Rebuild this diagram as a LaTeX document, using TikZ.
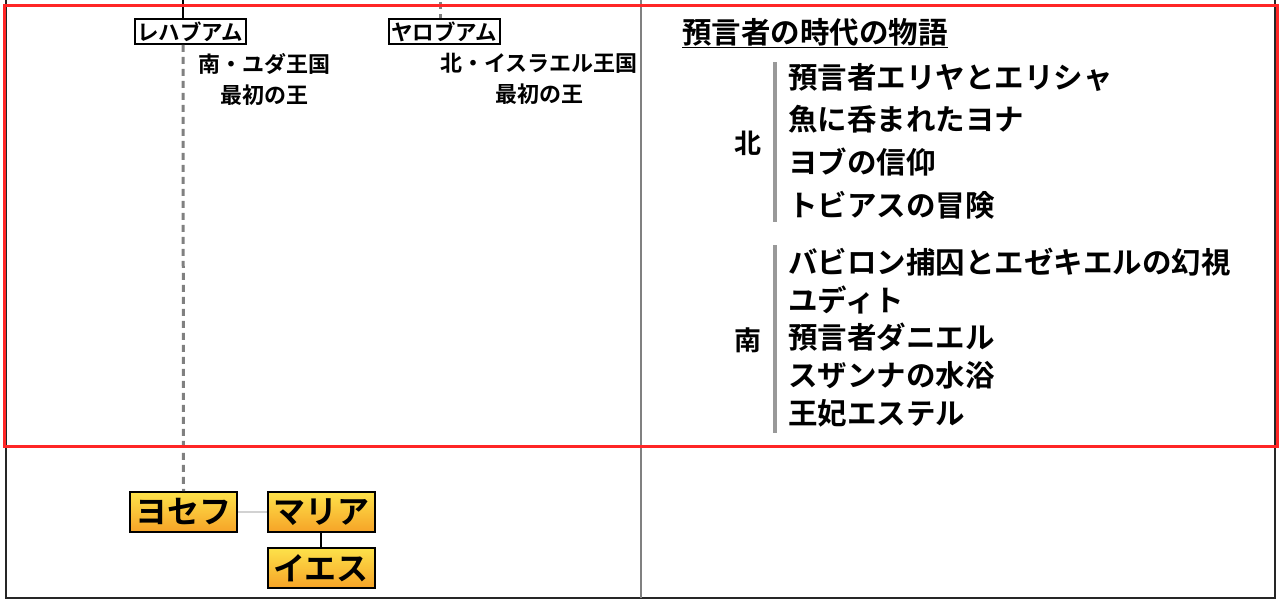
\documentclass[tikz,border=0pt]{standalone}
\usepackage{fontspec}
\setmainfont{Noto Sans CJK JP}[BoldFont={Noto Sans CJK JP Bold}]
\usepackage{tikz}
\usetikzlibrary{calc}
\definecolor{famtop}{HTML}{FDE24A}
\definecolor{fambot}{HTML}{F6A327}
\tikzstyle{king}=[draw=black,line width=2pt,fill=white,inner sep=2.5pt,font=\fontsize{21.5}{23}\selectfont\bfseries]
\tikzstyle{note}=[align=center,font=\fontsize{22}{31}\selectfont\bfseries]
\tikzstyle{story}=[anchor=west,inner sep=0pt,font=\fontsize{29.5}{32}\selectfont\bfseries]
\tikzstyle{fam}=[draw=black,line width=2pt,top color=famtop,bottom color=fambot,minimum width=107pt,minimum height=40pt,inner sep=0pt,font=\fontsize{32}{34}\selectfont\bfseries]
\tikzstyle{tree}=[gray,line width=3pt,dash pattern=on 7pt off 5pt]
\tikzstyle{bar}=[gray!80,line width=3.5pt]

\begin{document}
\begin{tikzpicture}[x=1pt,y=-1pt]
    \useasboundingbox (0,0) rectangle (1280,603);
    \coordinate (FTL) at (6,-10);
    \coordinate (FBR) at (1275,598);
    \coordinate (DT) at (641,-10);
    \coordinate (DB) at (641,598);
    \draw[black!85,line width=2pt] (FTL) rectangle (FBR);
    \draw[gray,line width=1.2pt] (DT) -- (DB);

    % kings
    \node[king] (reh) at (190,31.5) {レハブアム};
    \node[king] (jer) at (444,31.5) {ヤロブアム};
    \coordinate (rehtop) at (183,-10);
    \coordinate (jertop) at (440,-10);
    \node[note] (judah) at (264,79) {南・ユダ王国\\最初の王};
    \node[note] (israel) at (539,79) {北・イスラエル王国\\最初の王};

    % family
    \node[fam] (joseph) at (183.5,512) {ヨセフ};
    \node[fam] (mary) at (321,512) {マリア};
    \node[fam] (jesus) at (321,568) {イエス};
    \draw[black,line width=2pt] (rehtop) -- (reh.north -| rehtop);
    \draw[tree] (reh.south -| rehtop) -- (joseph.north);
    \draw[tree] (jertop) -- (jer.north -| jertop);
    \draw[gray!35,line width=2pt] (joseph) -- (mary);
    \draw[black,line width=2pt] (mary) -- (jesus);

    % stories
    \node[anchor=west,inner sep=0pt,font=\fontsize{29.5}{32}\selectfont\bfseries] (title) at (682,33) {\underline{預言者の時代の物語}};
    \node[font=\fontsize{27}{29}\selectfont\bfseries] (north) at (748,143) {北};
    \node[font=\fontsize{27}{29}\selectfont\bfseries] (south) at (748,340) {南};
    \coordinate (NT) at (775,62);
    \coordinate (NB) at (775,222);
    \coordinate (ST) at (775,245);
    \coordinate (SB) at (775,433);
    \draw[bar] (NT) -- (NB);
    \draw[bar] (ST) -- (SB);
    \node[story] (n1) at (788,77) {預言者エリヤとエリシャ};
    \node[story] (n2) at (788,119) {魚に呑まれたヨナ};
    \node[story] (n3) at (788,162) {ヨブの信仰};
    \node[story] (n4) at (788,205) {トビアスの冒険};
    \node[story] (s1) at (788,262) {バビロン捕囚とエゼキエルの幻視};
    \node[story] (s2) at (788,300) {ユディト};
    \node[story] (s3) at (788,337) {預言者ダニエル};
    \node[story] (s4) at (788,375) {スザンナの水浴};
    \node[story] (s5) at (788,413) {王妃エステル};

    % highlight
    \draw[red!85,line width=3pt] (4,5) rectangle (1277,446);
\end{tikzpicture}
\end{document}
